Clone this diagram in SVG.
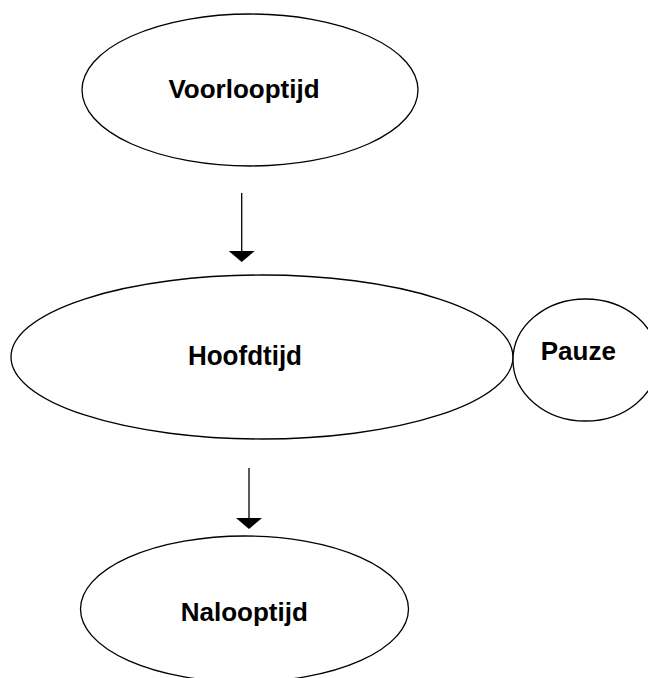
<svg xmlns="http://www.w3.org/2000/svg" width="648" height="678" viewBox="0 0 648 678">
<style>
.node{fill:#fff;stroke:#000;stroke-width:1.3}
.lbl{font-family:"Liberation Sans",Arial,sans-serif;font-weight:bold;font-size:26px;fill:#000;text-anchor:middle}
.conn{stroke:#000;stroke-width:1.3;fill:none}
.head{fill:#000;stroke:none}
</style>
<rect width="648" height="678" fill="#fff"/>
<g id="connectors">
<line class="conn" x1="241.7" y1="193" x2="241.7" y2="252"/>
<polygon class="head" points="228.7,251 254.7,251 241.7,262"/>
<line class="conn" x1="249" y1="468" x2="249" y2="519"/>
<polygon class="head" points="236,518 262,518 249,529"/>
</g>
<g id="voorlooptijd">
<ellipse class="node" cx="250" cy="90" rx="168" ry="76"/>
<text class="lbl" x="244" y="98">Voorlooptijd</text>
</g>
<g id="hoofdtijd">
<ellipse class="node" cx="262" cy="357" rx="251" ry="82"/>
<text class="lbl" x="245" y="365.5" transform="translate(0,365.5) scale(1,1.08) translate(0,-365.5)">Hoofdtijd</text>
</g>
<g id="pauze">
<ellipse class="node" cx="585.5" cy="360" rx="72.5" ry="61"/>
<text class="lbl" x="578.3" y="360">Pauze</text>
</g>
<g id="nalooptijd">
<ellipse class="node" cx="244.5" cy="609" rx="164" ry="73"/>
<text class="lbl" x="244.3" y="620.7">Nalooptijd</text>
</g>
</svg>
